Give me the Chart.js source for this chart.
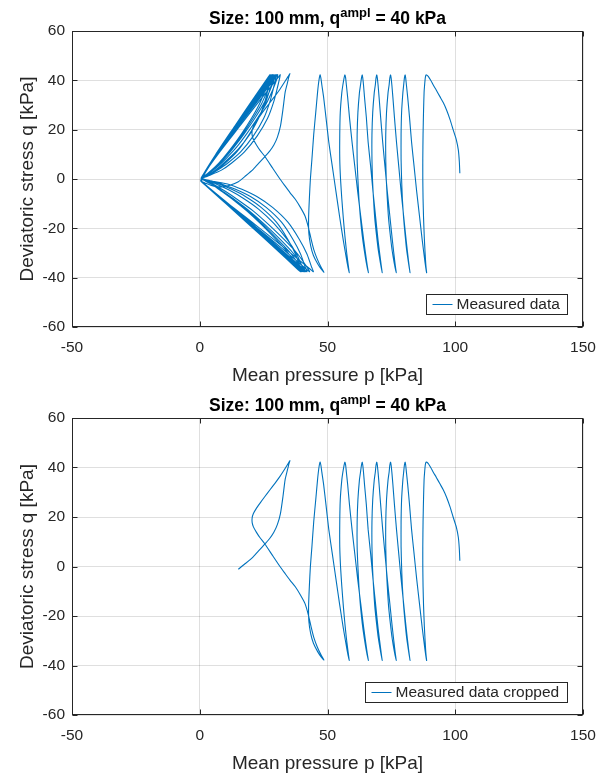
<!DOCTYPE html>
<html>
<head>
<meta charset="utf-8">
<script src="https://cdn.jsdelivr.net/npm/chart.js@4.4.1/dist/chart.umd.min.js"></script>
<style>
  html, body { margin: 0; padding: 0; background: #fff; }
  canvas { display: block; }
</style>
</head>
<body>
<canvas id="full-chart" width="611" height="387"></canvas>
<canvas id="cropped-chart" width="611" height="388"></canvas>
<script>
// Tick labels of both axes
const pTicks = [-50, 0, 50, 100, 150];
const qTicks = [-60, -40, -20, 0, 20, 40, 60];

// Stress path [p, q] in kPa.
// Part 1: start at p ~ 102 and the seven cycles drifting to the left
const fingersPath = [
  [101.8, 2.3], [101.6, 7.0], [101.2, 11.8], [100.4, 16.0], [99.2, 19.9], [98.0, 24.0], [96.6, 28.0], [95.3, 31.0],
  [94.0, 33.4], [92.6, 36.0], [91.4, 38.1], [90.4, 40.0], [89.5, 41.5], [88.9, 42.1], [88.6, 42.2],
  [88.3, 41.2], [88.0, 38], [87.8, 35], [87.6, 28], [87.4, 18], [87.3, 8], [87.3, 0], [87.4, -8], [87.6, -16], [87.9, -24], [88.2, -30], [88.5, -35], [88.8, -38],
  [88.2, -34], [87.1, -25], [86.0, -15], [84.9, -5], [83.9, 5], [82.9, 15], [82.1, 25], [81.4, 33], [80.9, 38], [80.6, 41], [80.4, 42.2],
  [80.1, 41], [79.8, 38], [79.5, 35], [79.0, 27], [78.8, 18], [78.8, 8], [79.0, 0], [79.3, -8], [79.8, -16], [80.4, -23], [81.0, -29], [81.7, -34], [82.3, -38],
  [81.8, -34], [80.8, -25], [79.8, -15], [78.8, -5], [77.9, 5], [77.0, 15], [76.2, 25], [75.6, 33], [75.2, 38], [74.9, 41], [74.7, 42.2],
  [74.4, 41], [74.1, 38], [73.7, 35], [73.1, 27], [72.8, 18], [72.8, 8], [73.0, 0], [73.4, -8], [73.9, -16], [74.6, -23], [75.3, -29], [76.1, -34], [76.9, -38],
  [76.4, -34], [75.4, -25], [74.4, -15], [73.4, -5], [72.5, 5], [71.6, 15], [70.8, 25], [70.2, 33], [69.8, 38], [69.5, 41], [69.3, 42.2],
  [69.0, 41], [68.7, 38], [68.3, 35], [67.7, 27], [67.4, 18], [67.4, 8], [67.6, 0], [68.0, -8], [68.5, -16], [69.2, -23], [69.9, -29], [70.7, -34], [71.4, -38],
  [70.9, -34], [69.8, -25], [68.8, -15], [67.8, -5], [66.9, 5], [65.9, 15], [65.2, 25], [64.5, 33], [64.1, 38], [63.8, 41], [63.6, 42.2],
  [63.3, 41], [62.9, 38], [62.5, 35], [61.9, 27], [61.6, 18], [61.6, 8], [61.9, 0], [62.3, -8], [62.9, -16], [63.6, -23], [64.4, -29], [65.2, -34], [66.0, -38],
  [65.4, -34], [64.2, -25], [63.0, -15], [61.8, -5], [60.7, 5], [59.6, 15], [58.6, 25], [57.9, 33], [57.4, 38], [57.1, 41], [56.8, 42.2],
  [56.5, 41], [56.0, 38], [55.6, 35], [55.0, 27], [54.8, 18], [54.8, 8], [55.1, 0], [55.6, -8], [56.2, -16], [56.8, -23], [57.4, -29], [58.0, -34], [58.5, -38],
  [57.7, -34], [56.2, -25], [54.7, -15], [53.3, -5], [51.9, 5], [50.5, 15], [49.4, 25], [48.5, 33], [47.8, 38], [47.4, 41], [47.1, 42.3],
  [46.8, 41], [46.4, 38], [46.1, 35], [45.4, 27], [44.6, 18], [43.9, 8], [43.3, 0], [42.9, -8], [42.6, -16], [42.7, -22], [43.4, -27],
  [44.5, -31], [46.2, -34.5], [47.5, -36.5], [48.6, -37.8]
];

// Part 2: the loop through the "nose" and the last segment kept in the cropped data
const corePath = [
  [47.4, -35.6], [46.0, -32.5], [44.6, -28.5], [43.5, -24.0], [42.5, -19.5], [41.2, -15.0], [39.4, -11.5], [37.4, -8.2],
  [35.3, -5.5], [33.3, -2.7], [31.4, 0], [28.4, 4.6], [25.5, 9.1], [23.6, 11.6], [22.2, 13.8], [21.0, 16.0], [20.5, 17.8],
  [20.5, 19.6], [21.0, 21.4], [22.1, 23.4], [23.6, 25.6], [25.5, 28.3], [27.5, 31.0], [29.5, 33.7], [31.4, 36.4],
  [33.4, 39.6], [34.6, 41.6], [35.3, 42.8],
  [34.9, 41.5], [34.2, 38.5], [33.4, 35.0], [32.6, 28.5], [31.6, 21.5], [30.4, 17.0], [29.0, 13.8], [27.3, 11.2],
  [25.5, 9.1], [23.3, 6.6], [21.0, 4.0], [18.0, 1.3], [15.1, -1.1]
];

// Part 3: butterfly loops around p ~ 0 (only in the full data)
const tailPath = [
  [11.5, -2.6], [7.5, -3.2], [4.5, -2.6], [2.0, -1.6],
  // cycle 1
  [1.0, -1.2], [11.1, -9.9], [22.3, -19.0], [33.4, -28.2], [43.5, -36.8], [44.5, -37.6],
  [43.7, -35.5], [42.0, -30.5], [39.0, -24.5], [34.5, -17.5], [28.5, -11.5], [22.5, -7.2], [16.5, -4.2], [11.5, -2.2], [4.0, -0.7], [1.2, 0.1],
  [0.7, 0.6], [7.9, 11.1], [15.8, 21.6], [23.6, 32.0], [30.8, 41.3], [31.5, 42.3],
  [31.2, 40.6], [30.5, 37.5], [29.0, 31.5], [26.5, 24.5], [22.5, 17.5], [17.5, 11.0], [12.5, 6.5], [8.5, 3.6], [3.5, 1.3], [1.0, 0.3],
  // cycle 2
  [0.5, -0.8], [10.8, -9.7], [21.5, -19.0], [32.3, -28.2], [42.0, -36.8], [43.0, -37.6],
  [41.5, -35.0], [38.0, -30.0], [33.0, -24.5], [27.0, -18.5], [21.0, -13.0], [15.0, -8.5], [10.0, -5.0], [6.0, -2.5], [2.5, -0.8], [0.6, 0.2],
  [7.6, 11.0], [15.3, 21.6], [22.9, 32.0], [29.8, 41.3], [30.5, 42.3],
  [30.0, 40.0], [28.5, 36.0], [26.0, 30.5], [22.5, 24.5], [18.5, 18.5], [14.5, 13.0], [10.5, 8.5], [7.0, 5.0], [3.5, 2.2], [1.0, 0.5],
  // cycle 3
  [0.8, -1.0], [10.5, -9.8], [21.0, -19.0], [31.5, -28.2], [41.0, -36.8], [42.0, -37.6],
  [41.2, -35.5], [39.5, -30.5], [36.5, -24.5], [32.0, -17.5], [26.0, -11.5], [20.0, -7.2], [14.0, -4.2], [9.0, -2.2], [3.8, -0.6], [1.0, 0.2],
  [7.5, 11.0], [15.0, 21.6], [22.5, 32.0], [29.3, 41.3], [30.0, 42.3],
  [29.7, 40.6], [29.0, 37.5], [27.5, 31.5], [25.0, 24.5], [21.0, 17.5], [16.0, 11.0], [11.0, 6.5], [7.0, 3.6], [3.2, 1.2], [0.8, 0.2],
  // cycle 4
  [0.4, -0.9], [10.4, -9.7], [20.8, -19.0], [31.1, -28.2], [40.5, -36.8], [41.5, -37.6],
  [40.0, -35.0], [36.5, -30.0], [31.5, -24.5], [25.5, -18.5], [19.5, -13.0], [13.8, -8.5], [9.0, -5.0], [5.5, -2.5], [2.3, -0.8], [0.5, 0.3],
  [7.4, 11.0], [14.8, 21.6], [22.1, 32.0], [28.8, 41.3], [29.5, 42.3],
  [29.0, 40.0], [27.5, 36.0], [25.0, 30.5], [21.5, 24.5], [17.5, 18.5], [13.5, 13.0], [9.8, 8.5], [6.5, 5.0], [3.2, 2.2], [0.9, 0.6],
  // cycle 5
  [0.9, -1.1], [10.3, -9.8], [20.5, -19.0], [30.8, -28.2], [40.0, -36.8], [41.0, -37.6],
  [40.0, -35.2], [37.8, -30.2], [34.2, -24.5], [29.0, -18.0], [23.0, -12.2], [17.0, -7.8], [11.5, -4.5], [7.0, -2.3], [3.0, -0.7], [0.8, 0.2],
  [7.3, 11.0], [14.5, 21.6], [21.8, 32.0], [28.3, 41.3], [29.0, 42.3],
  [28.6, 40.3], [27.6, 36.8], [25.8, 31.0], [23.0, 24.5], [19.5, 18.0], [15.0, 12.0], [10.5, 7.5], [7.0, 4.3], [3.3, 1.6], [0.9, 0.4],
  // cycle 6
  [0.5, -0.7], [10.1, -9.7], [20.3, -19.0], [30.4, -28.2], [39.5, -36.8], [40.5, -37.6],
  [39.0, -35.0], [35.5, -30.0], [30.5, -24.5], [24.8, -18.5], [19.0, -13.0], [13.5, -8.5], [8.8, -5.0], [5.3, -2.5], [2.2, -0.8], [0.6, 0.3],
  [7.1, 11.0], [14.3, 21.6], [21.4, 32.0], [27.8, 41.3], [28.5, 42.3],
  [28.0, 40.0], [26.5, 36.0], [24.2, 30.5], [20.8, 24.5], [17.0, 18.5], [13.0, 13.0], [9.5, 8.5], [6.3, 5.0], [3.1, 2.2], [0.8, 0.6],
  // cycle 7
  [0.7, -1.0], [10.0, -9.8], [20.0, -19.0], [30.0, -28.2], [39.0, -36.8], [40.0, -37.6],
  [39.2, -35.5], [37.5, -30.5], [34.5, -24.5], [30.0, -17.5], [24.0, -11.5], [18.0, -7.2], [12.5, -4.2], [8.0, -2.2], [3.5, -0.6], [1.0, 0.2],
  [7.0, 11.0], [14.0, 21.6], [21.0, 32.0], [27.3, 41.3], [28.0, 42.3],
  [27.7, 40.6], [27.0, 37.5], [25.5, 31.5], [23.0, 24.5], [19.0, 17.5], [14.5, 11.0], [10.0, 6.5], [6.5, 3.6], [3.0, 1.2], [0.8, 0.2],
  // cycle 8
  [0.4, -0.8], [9.9, -9.7], [19.8, -19.0], [29.6, -28.2], [38.5, -36.8], [39.5, -37.6],
  [38.0, -35.0], [34.6, -30.0], [29.8, -24.5], [24.2, -18.5], [18.5, -13.0], [13.2, -8.5], [8.6, -5.0], [5.2, -2.5], [2.2, -0.8], [0.6, 0.3],
  [6.9, 11.0], [13.8, 21.6], [20.6, 32.0], [26.8, 41.3], [27.5, 42.3],
  [27.0, 40.0], [25.6, 36.0], [23.4, 30.5], [20.2, 24.5], [16.5, 18.5], [12.7, 13.0], [9.2, 8.5], [6.1, 5.0], [3.0, 2.2], [0.8, 0.6]
];

const FONT = '"Liberation Sans", Arial, Helvetica, sans-serif';
const AXIS_COLOR = '#262626';
const LINE_COLOR = '#0072BD';

// MATLAB style box, inward ticks, title with superscript and boxed legend
const matlabAxes = {
  id: 'matlabAxes',
  afterDatasetsDraw(chart, args, opts) {
    const { ctx, chartArea: a, scales } = chart;
    const L = Math.round(a.left) + 0.5, R = Math.round(a.right) - 0.5;
    const T = Math.round(a.top) + 0.5, B = Math.round(a.bottom) - 0.5;
    ctx.save();
    ctx.strokeStyle = AXIS_COLOR;
    ctx.lineWidth = 1;
    ctx.strokeRect(L, T, R - L, B - T);
    ctx.beginPath();
    scales.x.ticks.forEach(t => {
      const x = Math.round(scales.x.getPixelForValue(t.value)) + 0.5;
      ctx.moveTo(x, B); ctx.lineTo(x, B - 5);
      ctx.moveTo(x, T); ctx.lineTo(x, T + 5);
    });
    scales.y.ticks.forEach(t => {
      const y = Math.round(scales.y.getPixelForValue(t.value)) + 0.5;
      ctx.moveTo(L, y); ctx.lineTo(L + 5, y);
      ctx.moveTo(R, y); ctx.lineTo(R - 5, y);
    });
    ctx.stroke();

    // legend (southeast)
    ctx.font = '15.5px ' + FONT;
    const textW = ctx.measureText(opts.legendText).width;
    const boxR = Math.round(a.right) - 15.5, boxB = Math.round(a.bottom) - 12.5;
    const boxW = Math.round(30 + textW + 8), boxH = 20;
    const boxL = boxR - boxW, boxT = boxB - boxH;
    ctx.fillStyle = '#fff';
    ctx.fillRect(boxL, boxT, boxW, boxH);
    ctx.strokeStyle = AXIS_COLOR;
    ctx.strokeRect(boxL, boxT, boxW, boxH);
    ctx.beginPath();
    ctx.strokeStyle = LINE_COLOR;
    ctx.moveTo(boxL + 6, boxT + boxH / 2);
    ctx.lineTo(boxL + 26, boxT + boxH / 2);
    ctx.stroke();
    ctx.fillStyle = AXIS_COLOR;
    ctx.textBaseline = 'middle';
    ctx.textAlign = 'left';
    ctx.fillText(opts.legendText, boxL + 30, boxT + boxH / 2 + 0.5);

    // title: "Size: 100 mm, q^ampl = 40 kPa"
    const mainFont = 'bold 17.5px ' + FONT, supFont = 'bold 13px ' + FONT;
    const parts = ['Size: 100 mm, q', 'ampl', ' = 40 kPa'];
    ctx.font = mainFont; const w1 = ctx.measureText(parts[0]).width, w3 = ctx.measureText(parts[2]).width;
    ctx.font = supFont; const w2 = ctx.measureText(parts[1]).width;
    let x = (a.left + a.right) / 2 - (w1 + w2 + w3) / 2;
    const base = 24;
    ctx.textBaseline = 'alphabetic';
    ctx.fillStyle = '#000';
    ctx.font = mainFont; ctx.fillText(parts[0], x, base); x += w1;
    ctx.font = supFont; ctx.fillText(parts[1], x, base - 7); x += w2;
    ctx.font = mainFont; ctx.fillText(parts[2], x, base);
    ctx.restore();
  }
};

function makeChart(canvasId, path, legendText) {
  const points = path.map(([p, q]) => ({ x: p, y: q }));
  return new Chart(document.getElementById(canvasId), {
    type: 'scatter',
    data: {
      datasets: [{
        label: legendText,
        data: points,
        showLine: true,
        fill: false,
        borderColor: LINE_COLOR,
        borderWidth: 1.1,
        pointRadius: 0,
        tension: 0.2
      }]
    },
    options: {
      responsive: false,
      animation: false,
      layout: { padding: { left: 0, right: 28, top: 31, bottom: 0 } },
      plugins: {
        legend: { display: false },
        title: { display: false },
        tooltip: { enabled: false },
        matlabAxes: { legendText: legendText }
      },
      scales: {
        x: {
          type: 'linear',
          min: pTicks[0],
          max: pTicks[pTicks.length - 1],
          afterBuildTicks: s => { s.ticks = pTicks.map(v => ({ value: v })); },
          afterFit: s => { s.height = 60; },
          grid: { color: 'rgba(38,38,38,0.15)', drawTicks: false },
          border: { display: false },
          ticks: { padding: 11, color: AXIS_COLOR, font: { family: FONT, size: 15.5 } },
          title: {
            display: true,
            text: 'Mean pressure p [kPa]',
            color: AXIS_COLOR,
            font: { family: FONT, size: 19 },
            padding: { top: 0, bottom: 0 }
          }
        },
        y: {
          type: 'linear',
          min: qTicks[0],
          max: qTicks[qTicks.length - 1],
          afterBuildTicks: s => { s.ticks = qTicks.map(v => ({ value: v })); },
          afterFit: s => { s.width = 72; },
          grid: { color: 'rgba(38,38,38,0.15)', drawTicks: false },
          border: { display: false },
          ticks: { padding: 7, color: AXIS_COLOR, font: { family: FONT, size: 15.5 } },
          title: {
            display: true,
            text: 'Deviatoric stress q [kPa]',
            color: AXIS_COLOR,
            font: { family: FONT, size: 19 },
            padding: { top: 16, bottom: 0 }
          }
        }
      }
    },
    plugins: [matlabAxes]
  });
}

makeChart('full-chart', fingersPath.concat(corePath, tailPath), 'Measured data');
makeChart('cropped-chart', fingersPath.concat(corePath), 'Measured data cropped');
</script>
</body>
</html>
